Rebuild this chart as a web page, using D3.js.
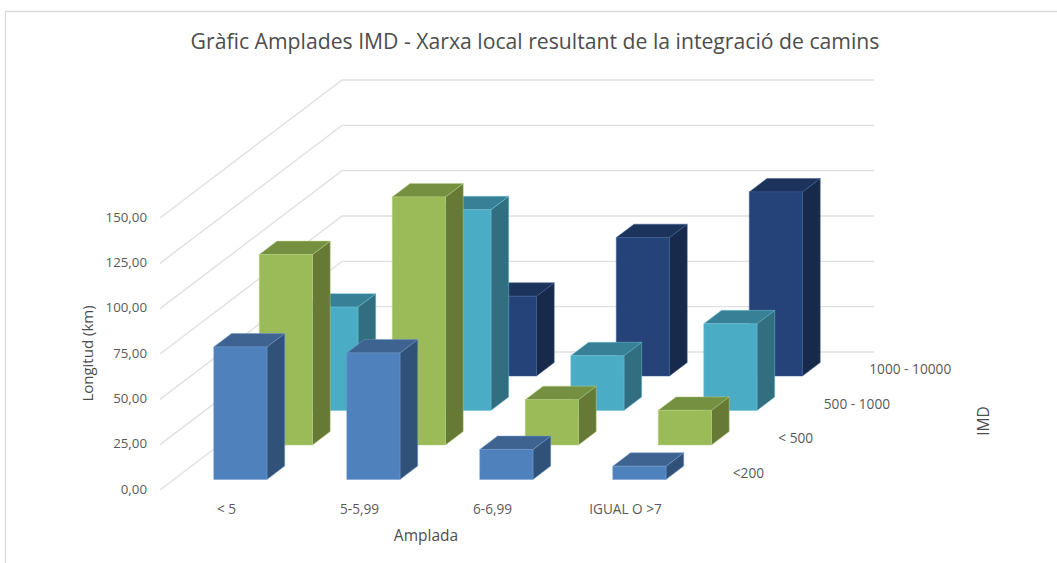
<!DOCTYPE html>
<html>
<head>
<meta charset="utf-8">
<script src="https://cdn.jsdelivr.net/npm/d3@7"></script>
<style>
  html, body { margin: 0; padding: 0; background: #fff; }
  text { font-family: "Open Sans", "Noto Sans", sans-serif; fill: #595959; }
</style>
</head>
<body>
<div id="chart"></div>
<script>
const categories = ['< 5', '5-5,99', '6-6,99', 'IGUAL O >7'];
const rows = ['<200', '< 500', '500 - 1000', '1000 - 10000'];
const valuesLow = [73.1, 69.8, 16.5, 7.3];
const values500 = [105, 136.8, 25, 19.1];
const values1000 = [57, 110.7, 30.2, 47.8];
const values10000 = [0, 44, 76.3, 101.5];
const tickValues = [0, 25, 50, 75, 100, 125, 150];

const series = [valuesLow, values500, values1000, values10000];
const colors = [
    { front: '#4f81bd', top: '#3f6390', side: '#315278', edge: '#6f9bd0' },
    { front: '#9bbb59', top: '#769042', side: '#667a36', edge: '#b4cf80' },
    { front: '#4bacc6', top: '#388095', side: '#316e80', edge: '#6fc2d8' },
    { front: '#254379', top: '#1c335b', side: '#172a4c', edge: '#3f5d92' }
];

const CHART_WIDTH = 1057;
const CHART_HEIGHT = 563;

const svg = d3.select('#chart')
    .append('svg')
    .attr('width', CHART_WIDTH)
    .attr('height', CHART_HEIGHT)
    .style('display', 'block');

// Scales: x along the categories, depth goes up and to the right
const xScale = d3.scaleLinear().domain([0, categories.length]).range([160, 692]);
const depthX = d3.scaleLinear().domain([0, rows.length]).range([0, 182]);
const depthY = d3.scaleLinear().domain([0, rows.length]).range([490, 352]);
const yScale = d3.scaleLinear().domain([0, 150]).range([490, 218]);
const heightOf = v => yScale(0) - yScale(v);

// point in chart space: c = category position, r = row position, v = value
const project = (c, r, v) => [xScale(c) + depthX(r), depthY(r) - heightOf(v)];
const poly = pts => pts.map(p => p.join(',')).join(' ');

// Frame, the right side runs off the picture
svg.append('path')
    .attr('d', 'M5.5,563V11.5H1057')
    .attr('fill', 'none')
    .attr('stroke', '#d9d9d9')
    .attr('stroke-width', 1.3);

// Walls
const grid = svg.append('g').attr('class', 'grid');
tickValues.forEach(t => {
    const a = project(0, 0, t);
    const b = project(0, rows.length, t);
    const c = project(categories.length, rows.length, t);
    grid.append('polyline')
        .attr('points', poly([a, b, c]))
        .attr('fill', 'none')
        .attr('stroke', '#e0e0e0')
        .attr('stroke-width', 1.4);
});

// Bars, back row first so the front ones paint over
const barW = 0.4;   // share of a category
const barD = 0.39;  // share of a row
const bars = svg.append('g').attr('class', 'bars');
d3.range(rows.length - 1, -1, -1).forEach(r => {
    const col = colors[r];
    series[r].forEach((v, c) => {
        const x0 = c + (1 - barW) / 2, x1 = x0 + barW;
        const r0 = r + (1 - barD) / 2, r1 = r0 + barD;
        const g = bars.append('g')
            .attr('stroke', col.edge)
            .attr('stroke-width', 0.5)
            .attr('stroke-linejoin', 'round');
        g.append('polygon').attr('fill', col.side)
            .attr('points', poly([project(x1, r0, 0), project(x1, r1, 0), project(x1, r1, v), project(x1, r0, v)]));
        g.append('polygon').attr('fill', col.top)
            .attr('points', poly([project(x0, r0, v), project(x1, r0, v), project(x1, r1, v), project(x0, r1, v)]));
        g.append('polygon').attr('fill', col.front)
            .attr('points', poly([project(x0, r0, 0), project(x1, r0, 0), project(x1, r0, v), project(x0, r0, v)]));
    });
});

// Value axis
const comma = d3.formatLocale({ decimal: ',', thousands: '.', grouping: [3], currency: ['', ''] }).format('.2f');
const yAxis = d3.axisLeft(yScale)
    .tickValues(tickValues)
    .tickFormat(comma)
    .tickSize(0)
    .tickPadding(0);
const yG = svg.append('g')
    .attr('transform', 'translate(147,-1)')
    .call(yAxis);
yG.select('.domain').remove();
yG.selectAll('text').style('font-size', '13.3px');
yG.attr('font-family', null).attr('font-size', null);

// Category labels
svg.append('g').selectAll('text')
    .data(categories)
    .enter()
    .append('text')
    .text(d => d)
    .attr('x', (d, i) => xScale(i + 0.5))
    .attr('y', 514)
    .attr('text-anchor', 'middle')
    .style('font-size', '13.6px');

// Row labels
svg.append('g').selectAll('text')
    .data(rows)
    .enter()
    .append('text')
    .text(d => d)
    .attr('x', (d, i) => xScale(categories.length) + depthX(i + 0.5) + 18)
    .attr('y', (d, i) => depthY(i + 0.5) + 5)
    .style('font-size', '13.7px');

// Titles
svg.append('text')
    .text('Gràfic Amplades IMD - Xarxa local resultant de la integració de camins')
    .attr('x', 535)
    .attr('y', 49)
    .attr('text-anchor', 'middle')
    .style('font-size', '21.2px')
    .style('fill', '#4d4d4d');

svg.append('text')
    .text('Amplada')
    .attr('x', 426)
    .attr('y', 541)
    .attr('text-anchor', 'middle')
    .style('font-size', '15.5px')
    .style('fill', '#4d4d4d');

svg.append('text')
    .text('Longitud (km)')
    .attr('transform', 'translate(92.5,353.5) rotate(-90)')
    .attr('text-anchor', 'middle')
    .style('font-size', '15px')
    .style('fill', '#4d4d4d');

svg.append('text')
    .text('IMD')
    .attr('transform', 'translate(989,421) rotate(-90)')
    .attr('text-anchor', 'middle')
    .style('font-size', '15.5px')
    .style('fill', '#4d4d4d');
</script>
</body>
</html>
